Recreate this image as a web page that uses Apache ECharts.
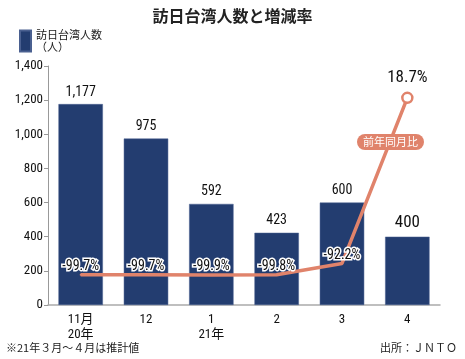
<!DOCTYPE html>
<html><head><meta charset="utf-8">
<script src="https://cdn.jsdelivr.net/npm/echarts@6/dist/echarts.min.js"></script>
<style>html,body{margin:0;padding:0;background:#fff}#c{width:465px;height:359px}</style>
</head><body><div id="c"></div>
<script>
const categories = ['11月\n20年', '12', '1\n21年', '2', '3', '4'];
const visitors = [1177, 975, 592, 423, 600, 400];
const yoyRate = [-99.7, -99.7, -99.9, -99.8, -92.2, 18.7];
const yTicks = [0, 200, 400, 600, 800, 1000, 1200, 1400];

const FONT = '"Liberation Sans Narrow","Roboto Condensed","DejaVu Sans Condensed","Noto Sans CJK JP",sans-serif';
const JP = '"Noto Sans CJK JP",sans-serif';
const NAVY = '#233d70';
const SALMON = '#e0836b';

const chart = echarts.init(document.getElementById('c'), null, {renderer: 'canvas'});
chart.setOption({
  animation: false,
  title: {
    text: '訪日台湾人数と増減率', left: 'center', top: 3,
    textStyle: {fontFamily: JP, fontSize: 16, fontWeight: 'bold', color: '#222'}
  },
  legend: {
    data: ['訪日台湾人数'], left: 14, top: 24, icon: 'rect', itemWidth: 11, itemHeight: 21, itemGap: 4,
    formatter: () => '訪日台湾人数\n（人）',
    textStyle: {fontFamily: JP, fontSize: 11, color: '#222', lineHeight: 12}
  },
  grid: {left: 48, right: 25, top: 66, bottom: 54},
  xAxis: {
    type: 'category', data: categories,
    axisLine: {lineStyle: {color: '#aaa', width: 1.5}},
    axisTick: {show: false},
    axisLabel: {fontFamily: FONT, fontSize: 13, color: '#111', lineHeight: 15, margin: 7}
  },
  yAxis: [{
    type: 'value', min: 0, max: 1400, interval: 200,
    axisLine: {show: true, lineStyle: {color: '#999'}},
    axisTick: {show: true, length: 4, lineStyle: {color: '#999'}},
    splitLine: {show: false},
    axisLabel: {fontFamily: FONT, fontSize: 13, color: '#111', margin: 5,
      formatter: v => yTicks.includes(v) ? v.toLocaleString('en-US') : ''}
  }, {
    type: 'value', min: -120, max: 40, show: false, splitLine: {show: false}
  }],
  series: [{
    name: '訪日台湾人数', type: 'bar', barWidth: '68%',
    data: visitors.map((v, i) => i === 5 ? {value: v, label: {fontSize: 17}} : v),
    itemStyle: {color: NAVY, borderColor: '#4a6090', borderWidth: 0.5},
    label: {show: true, position: 'top', distance: 5, fontFamily: FONT, fontSize: 14, color: '#111',
      formatter: p => p.value.toLocaleString('en-US')}
  }, {
    name: '前年同月比', type: 'line', yAxisIndex: 1,
    data: yoyRate.map((v, i) => i === 5 ? {
      value: v, symbol: 'circle', symbolSize: 10,
      itemStyle: {color: '#fff', borderColor: SALMON, borderWidth: 2.5, opacity: 1},
      label: {fontSize: 17, position: 'top', distance: 5, textBorderWidth: 0}
    } : v),
    smooth: false,
    symbol: 'circle', symbolSize: 2, showSymbol: true,
    itemStyle: {color: SALMON},
    lineStyle: {color: SALMON, width: 3.5},
    z: 5,
    label: {show: true, position: 'top', distance: 0, fontFamily: FONT, fontSize: 14, color: '#111',
      textBorderColor: '#fff', textBorderWidth: 3, formatter: p => p.value + '%'}
  }],
  graphic: [
    {type: 'rect', left: 357, top: 134, shape: {width: 67, height: 16, r: 8}, style: {fill: SALMON}, z: 10},
    {type: 'text', x: 390.5, y: 142, style: {text: '前年同月比', fill: '#fff', font: '11px ' + JP, align: 'center', verticalAlign: 'middle'}, z: 11},
    {type: 'text', left: 6, top: 342, style: {text: '※21年３月～４月は推計値', fill: '#222', font: '11px ' + JP}},
    {type: 'text', right: 8, top: 342, style: {text: '出所：ＪＮＴＯ', fill: '#222', font: '11px ' + JP}}
  ]
});
</script></body></html>
